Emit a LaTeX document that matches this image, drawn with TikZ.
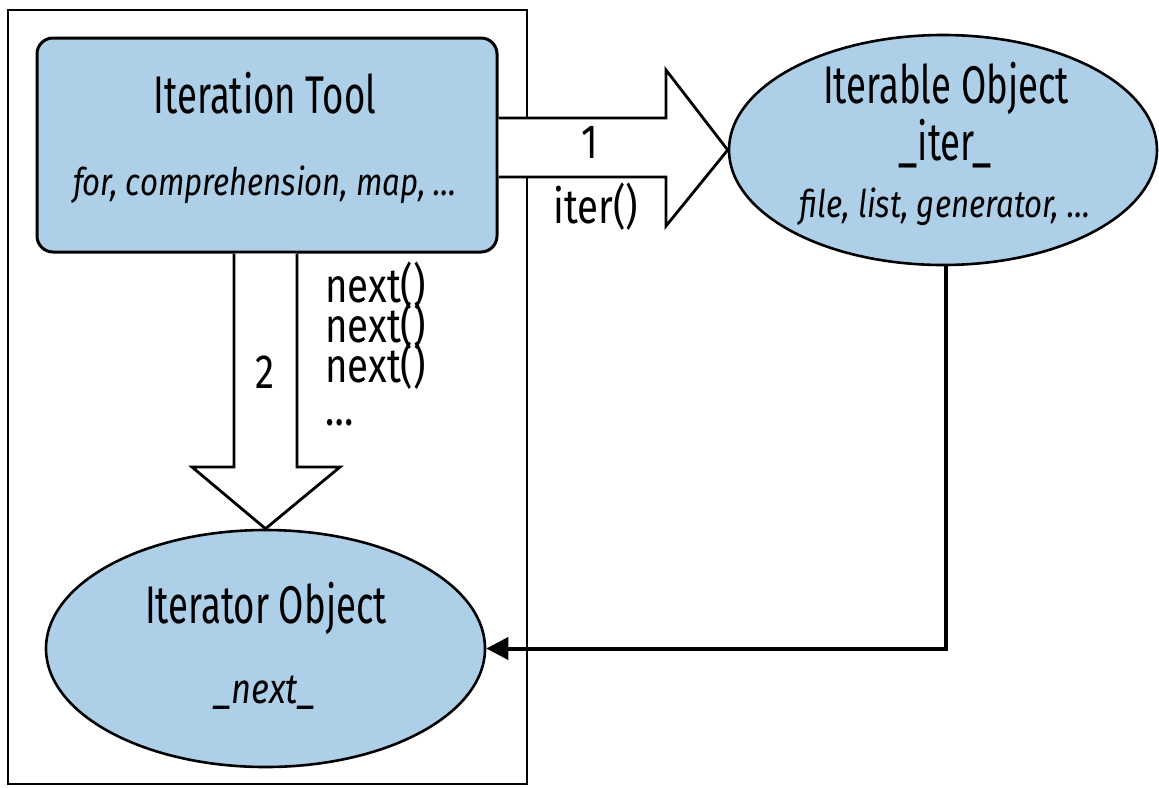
\documentclass[tikz,border=0pt]{standalone}
\usepackage{fontspec}
\setmainfont{Fira Sans}[FakeStretch=0.82]
\newfontfamily\titlefam{Fira Sans}[FakeStretch=0.69]
\newfontfamily\labelfam{Fira Sans}[FakeStretch=0.8]
\usetikzlibrary{shapes.geometric,arrows.meta}
\definecolor{objblue}{RGB}{174,207,232}
\tikzset{
  objshape/.style={ellipse, draw=black, line width=1.3pt, fill=objblue, inner sep=0pt},
  toolbox/.style={rectangle, rounded corners=8pt, draw=black, line width=1.5pt, fill=objblue, minimum width=230pt, minimum height=107pt},
  blockarrow/.style={draw=black, line width=1.4pt, fill=white, line join=miter},
  titletext/.style={font=\titlefam\fontsize{26.5}{30}\selectfont, anchor=base, inner sep=0pt},
  subtext/.style={font=\itshape\fontsize{19}{22}\selectfont, anchor=base, inner sep=0pt},
  labeltext/.style={font=\labelfam\fontsize{24}{28}\selectfont, anchor=base, inner sep=0pt},
  frame/.style={draw=black, line width=1.2pt},
  flow/.style={draw=black, line width=2pt, -{Triangle[length=11pt,width=11pt]}}
}
\begin{document}
\begin{tikzpicture}[x=0.5pt,y=-0.5pt]
\useasboundingbox (0,0) rectangle (1159,787);
\draw[frame] (8,10) rectangle (527,784);
\node[toolbox] (tool) at (267,145) {};
\node[objshape, minimum width=214pt, minimum height=115pt] (iterable) at (943,150) {};
\node[objshape, minimum width=219.5pt, minimum height=118.5pt] (iterator) at (265.5,648.5) {};
% block arrow 1
\draw[blockarrow] (tool.east |- 0,118) -- (666,118) -- (666,70) -- (iterable.west) -- (666,226) -- (666,177) -- (tool.east |- 0,177);
% block arrow 2
\draw[blockarrow] (234,0 |- tool.south) -- (234,467) -- (192,467) -- (iterator.north) -- (340,467) -- (297,467) -- (297,0 |- tool.south);
% connector
\draw[flow] (iterable.south -| 946,0) |- (iterator.east);
% texts
\node[titletext] (tooltitle) at (265,113) {Iteration Tool};
\node[subtext] (toolsub) at (265,195) {for, comprehension, map, …};
\node[titletext] (itbltitle) at (946,103) {Iterable Object};
\node[titletext] (itbldunder) at (945,160) {\_iter\_};
\node[subtext] (itblsub) at (945,217) {file, list, generator, …};
\node[titletext] (itrtitle) at (266,623) {Iterator Object};
\node[subtext, font=\itshape\fontsize{21}{24}\selectfont] (itrdunder) at (265,703) {\_next\_};
\node[labeltext] (one) at (590,158) {1};
\node[labeltext] (iterlbl) at (596,223) {iter()};
\node[labeltext] (two) at (265,388) {2};
\node[labeltext, anchor=base west] (nexta) at (325,302) {next()};
\node[labeltext, anchor=base west] (nextb) at (325,342) {next()};
\node[labeltext, anchor=base west] (nextc) at (325,382) {next()};
\node[labeltext, anchor=base west] (nextdots) at (325,425) {…};
\end{tikzpicture}
\end{document}
